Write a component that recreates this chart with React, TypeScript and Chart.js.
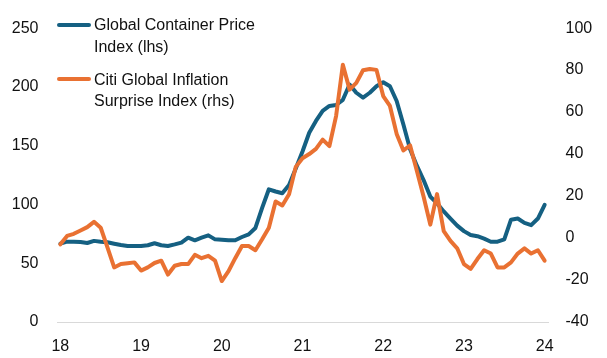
import React, { useEffect, useRef } from "react";
import { Chart, registerables } from "chart.js";

Chart.register(...registerables);

// Monthly categories, Jan 2018 .. Jan 2024
const months: string[] = Array.from({ length: 73 }, (_, i) =>
  `${2018 + Math.floor(i / 12)}-${String((i % 12) + 1).padStart(2, "0")}`
);
const yearTickLabels = ["18", "19", "20", "21", "22", "23", "24"];

// Global Container Price Index (lhs)
const containerIndex = [
  66.6, 68.3, 68.3, 68, 67.2, 69, 68.3, 67.8, 66.6, 65.5, 64.7, 64.7,
  64.7, 65.3, 67, 65.3, 64.7, 66, 67.5, 71.7, 69.5, 71.7, 73.7, 70.3,
  70, 69.5, 69.5, 72.3, 74.5, 80, 97, 112.9, 111, 109.5, 116.5, 130.5,
  145, 161, 171, 179.6, 183.8, 184.6, 189, 202, 195, 190.8, 195, 200.5,
  204, 200.5, 188, 168, 147, 133, 120.7, 106.7, 101, 94, 88, 82,
  77.3, 74, 73, 70.9, 68.3, 68.3, 70.3, 87, 88, 84.3, 82.4, 88,
  99.7,
];

// Citi Global Inflation Surprise Index (rhs)
const citiSurprise = [
  -3, 1, 2, 3.6, 5.2, 7.7, 4.9, -4.5, -14, -12.4, -12, -11.6,
  -15.5, -14, -11.9, -10.8, -17.4, -13.2, -12.4, -12.4, -8, -9.6, -8.5, -10.8,
  -20.5, -15.8, -9.6, -3.8, -3.8, -5.8, -0.6, 4.9, 17.4, 15.5, 20.9, 33.9,
  38, 40, 42.5, 46.9, 43.8, 58.2, 82.5, 70.7, 73.9, 79.9, 80.5, 80.1,
  67.6, 62.9, 49.6, 41.7, 44.1, 32, 19.8, 6.4, 20.9, 3.3, -1.4, -4.9,
  -12.4, -14.7, -10, -5.8, -7.4, -14, -14, -11.6, -7.4, -4.9, -7.4, -5.8,
  -10.8,
];

const seriesNames = [
  ["Global Container Price", "Index (lhs)"],
  ["Citi Global Inflation", "Surprise Index (rhs)"],
];

const BLUE = "#156082";
const ORANGE = "#E97132";
const TEXT = "#111111";
const FONT_FAMILY = "'Liberation Sans', Arial, sans-serif";

export default function App() {
  const ref = useRef<HTMLCanvasElement>(null);

  useEffect(() => {
    if (!ref.current) return;
    const font = { family: FONT_FAMILY, size: 16 };
    const chart = new Chart(ref.current, {
      type: "line",
      data: {
        labels: months,
        datasets: [
          {
            label: seriesNames[0].join(" "),
            data: containerIndex,
            borderColor: BLUE,
            backgroundColor: BLUE,
            yAxisID: "yL",
            order: 1,
          },
          {
            label: seriesNames[1].join(" "),
            data: citiSurprise,
            borderColor: ORANGE,
            backgroundColor: ORANGE,
            yAxisID: "yR",
            order: 0,
          },
        ],
      },
      options: {
        responsive: false,
        animation: false,
        devicePixelRatio: 1,
        layout: { padding: { top: 25, left: 0, right: 0, bottom: 0 } },
        plugins: { legend: { display: false }, tooltip: { enabled: false } },
        elements: {
          point: { radius: 0 },
          line: {
            tension: 0,
            borderWidth: 4,
            borderJoinStyle: "round",
            borderCapStyle: "round",
          },
        },
        scales: {
          x: {
            type: "category",
            offset: true,
            grid: { display: false, drawTicks: false },
            border: { display: true, color: "#d9d9d9", width: 1 },
            ticks: {
              autoSkip: false,
              maxRotation: 0,
              padding: 15,
              font,
              color: TEXT,
              callback: (_v: any, index: number) =>
                index % 12 === 0 ? yearTickLabels[index / 12] : null,
            },
            afterFit: (s: any) => {
              s.height = 36;
            },
          },
          yL: {
            position: "left",
            min: 0,
            max: 250,
            grid: { display: false, drawTicks: false },
            border: { display: false },
            ticks: { stepSize: 50, padding: 18.5, font, color: TEXT },
            afterFit: (s: any) => {
              s.width = 57;
            },
          },
          yR: {
            position: "right",
            min: -40,
            max: 100,
            grid: { display: false, drawTicks: false },
            border: { display: false },
            ticks: { stepSize: 20, padding: 17.5, font, color: TEXT },
            afterFit: (s: any) => {
              s.width = 59;
            },
          },
        },
      },
    });
    return () => chart.destroy();
  }, []);

  const legendColors = [BLUE, ORANGE];
  const legendTops = [14.2, 68.5];

  return (
    <div style={{ position: "absolute", left: 0, top: 0, width: 607, height: 358, background: "#fff" }}>
      <canvas ref={ref} width={607} height={358} style={{ display: "block", width: 607, height: 358 }} />
      {seriesNames.map((lines, i) => (
        <div
          key={i}
          style={{
            position: "absolute",
            left: 57,
            top: legendTops[i],
            fontFamily: FONT_FAMILY,
            fontSize: 16,
            lineHeight: "21.7px",
            color: TEXT,
            whiteSpace: "nowrap",
          }}
        >
          <div
            style={{
              position: "absolute",
              left: 0,
              top: 8.85,
              width: 34,
              height: 4,
              borderRadius: 2,
              background: legendColors[i],
            }}
          />
          <div style={{ marginLeft: 37 }}>
            {lines.map((t, j) => (
              <div key={j}>{t}</div>
            ))}
          </div>
        </div>
      ))}
    </div>
  );
}
